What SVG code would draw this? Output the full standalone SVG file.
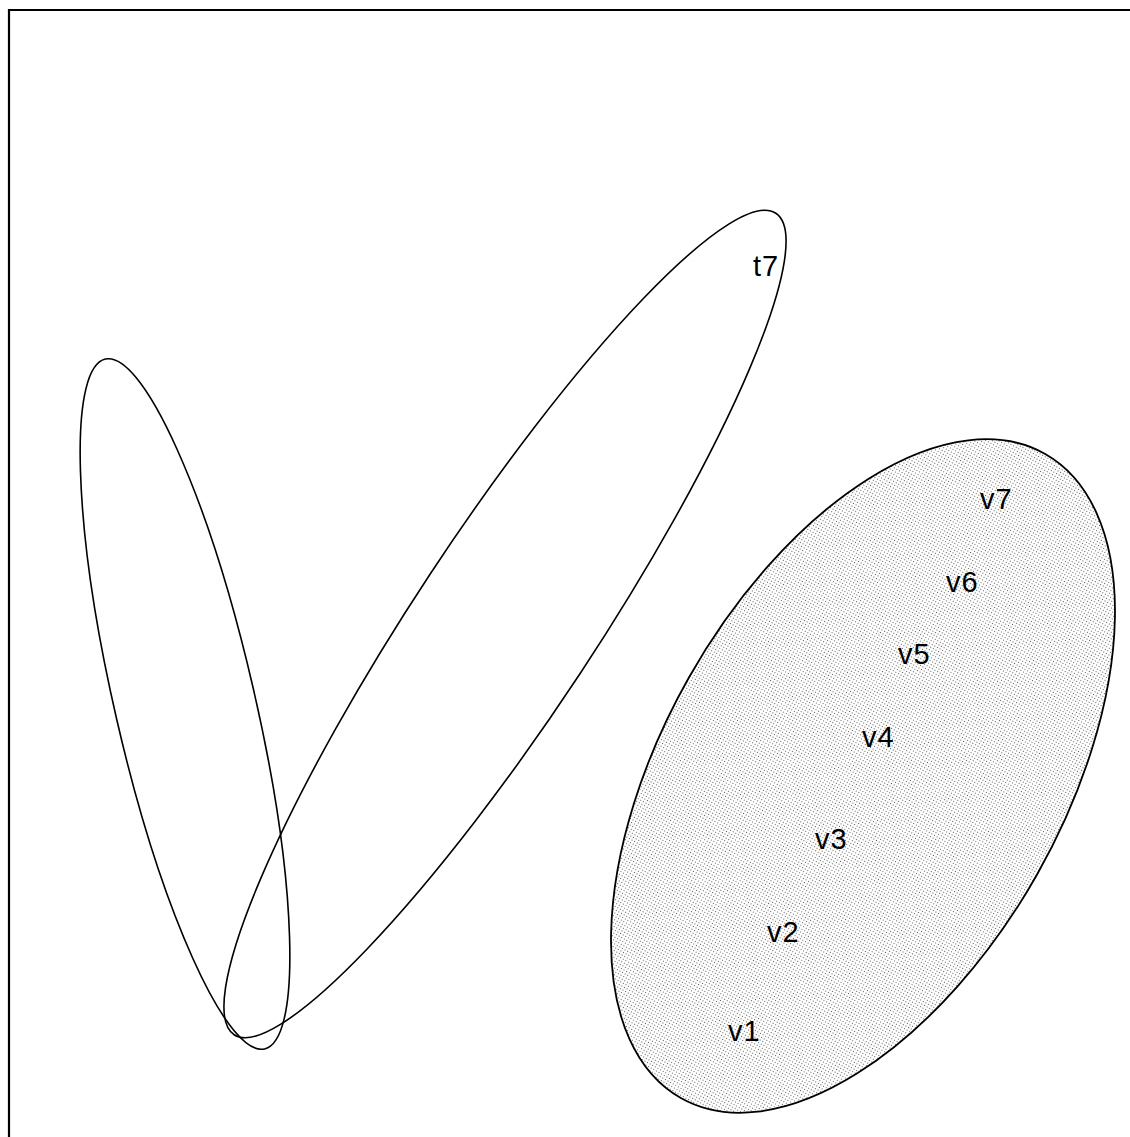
<svg xmlns="http://www.w3.org/2000/svg" width="1130" height="1137" viewBox="0 0 1130 1137">
<defs>
<pattern id="dots" width="3" height="3" patternUnits="userSpaceOnUse">
<rect width="3" height="3" fill="#ffffff"/>
<rect x="1" y="1" width="1" height="1" fill="#5e5e5e"/>
</pattern>
<style>
.frame{fill:none;stroke:#000;stroke-width:2.2}
.hyper{fill:none;stroke:#000;stroke-width:1.6}
.shaded{fill:url(#dots);stroke:#000;stroke-width:1.8}
.lbl{font-family:"Liberation Sans",Arial,sans-serif;font-size:29px;fill:#000;letter-spacing:1px}
</style>
</defs>
<rect width="1130" height="1137" fill="#fff"/>
<path class="frame" d="M9,1137 V10 H1130"/>
<g id="edge-a">
<ellipse class="hyper" cx="0" cy="0" rx="354" ry="70" transform="translate(185,704) rotate(77)"/>
</g>
<g id="edge-t7">
<ellipse class="hyper" cx="0" cy="0" rx="492" ry="90" transform="translate(505,624) rotate(-56.6)"/>
<text class="lbl" x="753" y="276">t7</text>
</g>
<g id="edge-v">
<ellipse class="shaded" cx="0" cy="0" rx="370" ry="200" transform="translate(863,776) rotate(-60.5)"/>
<text class="lbl" x="980" y="509">v7</text>
<text class="lbl" x="946" y="592">v6</text>
<text class="lbl" x="898" y="664">v5</text>
<text class="lbl" x="862" y="747">v4</text>
<text class="lbl" x="815" y="849">v3</text>
<text class="lbl" x="767" y="942">v2</text>
<text class="lbl" x="728" y="1041">v1</text>
</g>
<g id="connectors"></g>
</svg>
